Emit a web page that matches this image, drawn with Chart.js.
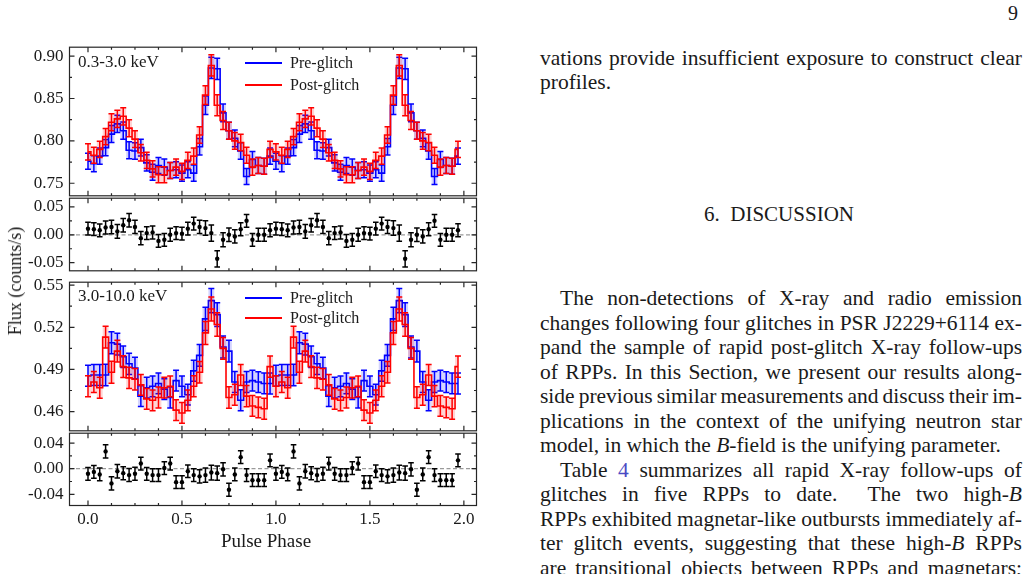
<!DOCTYPE html>
<html>
<head>
<meta charset="utf-8">
<title>Pulse profiles</title>
<script src="https://cdn.jsdelivr.net/npm/chart.js"></script>
<style>
  html, body { margin: 0; padding: 0; background: #fff; width: 1030px; height: 574px; overflow: hidden; }
  body { position: relative; font-family: "Liberation Serif", "DejaVu Serif", serif; color: #1a1a1a; }
  canvas { position: absolute; left: 0; }
  .lbl { position: absolute; white-space: nowrap; line-height: 1; }
  .swatch { position: absolute; height: 2px; width: 37px; }
  .line { position: absolute; left: 540px; width: 482px; font-size: 21.5px; line-height: 24.5px; word-spacing: -2px;
          white-space: nowrap; text-align: justify; text-align-last: justify; }
  .line.last { text-align: left; text-align-last: left; word-spacing: 0; }
  .indent { padding-left: 20px; box-sizing: border-box; }
  .ref { color: #4a4ac4; }
</style>
</head>
<body>
<canvas id="soft" width="500" height="181" style="top:31px;width:500px;height:181px"></canvas>
<canvas id="softRes" width="500" height="105" style="top:182px;width:500px;height:105px"></canvas>
<canvas id="hard" width="500" height="181" style="top:266px;width:500px;height:181px"></canvas>
<canvas id="hardRes" width="500" height="129" style="top:417px;width:500px;height:129px"></canvas>

<div class="lbl" style="left:78px;top:53px;font-size:17px">0.3-3.0 keV</div>
<div class="lbl" style="left:78px;top:287px;font-size:17px">3.0-10.0 keV</div>
<div class="swatch" style="left:245px;top:62px;background:#0000ff"></div>
<div class="lbl" style="left:290px;top:55px;font-size:16px">Pre-glitch</div>
<div class="swatch" style="left:245px;top:84px;background:#ff0000"></div>
<div class="lbl" style="left:290px;top:77px;font-size:16px">Post-glitch</div>
<div class="swatch" style="left:245px;top:297px;background:#0000ff"></div>
<div class="lbl" style="left:290px;top:290px;font-size:16px">Pre-glitch</div>
<div class="swatch" style="left:245px;top:317px;background:#ff0000"></div>
<div class="lbl" style="left:290px;top:310px;font-size:16px">Post-glitch</div>
<div class="lbl" style="left:15px;top:281px;font-size:18px;transform:translate(-50%,-50%) rotate(-90deg)">Flux (counts/s)</div>
<div class="lbl" style="left:266px;top:531px;font-size:19px;transform:translateX(-50%)">Pulse Phase</div>

<div class="lbl" style="left:1008px;top:3px;font-size:20px">9</div>
<div class="line" style="top:45.5px">vations provide insufficient exposure to construct clear</div>
<div class="line last" style="top:70px">profiles.</div>
<div class="lbl" style="left:779px;top:204px;font-size:21px;transform:translateX(-50%)">6.&nbsp; DISCUSSION</div>
<div class="line indent" style="top:286px">The non-detections of X-ray and radio emission</div>
<div class="line" style="top:310.5px">changes following four glitches in PSR J2229+6114 ex-</div>
<div class="line" style="top:335px">pand the sample of rapid post-glitch X-ray follow-ups</div>
<div class="line" style="top:359.5px">of RPPs. In this Section, we present our results along-</div>
<div class="line" style="top:384px">side previous similar measurements and discuss their im-</div>
<div class="line" style="top:408.5px">plications in the context of the unifying neutron star</div>
<div class="line last" style="top:433px">model, in which the <i>B</i>-field is the unifying parameter.</div>
<div class="line indent" style="top:457.5px">Table <span class="ref">4</span> summarizes all rapid X-ray follow-ups of</div>
<div class="line" style="top:482px">glitches in five RPPs to date.&nbsp; The two high-<i>B</i></div>
<div class="line" style="top:506.5px">RPPs exhibited magnetar-like outbursts immediately af-</div>
<div class="line" style="top:531px">ter glitch events, suggesting that these high-<i>B</i> RPPs</div>
<div class="line" style="top:555.5px">are transitional objects between RPPs and magnetars;</div>

<script>
// phase axis limits (matplotlib auto margins around 0 .. 63/32)
const X_MIN = -0.0984;
const X_MAX = 2.0672;

// bin centres of one rotation (32 bins); the profile is drawn twice
const phaseBins = [0, 0.03125, 0.0625, 0.09375, 0.125, 0.15625, 0.1875, 0.21875,
  0.25, 0.28125, 0.3125, 0.34375, 0.375, 0.40625, 0.4375, 0.46875,
  0.5, 0.53125, 0.5625, 0.59375, 0.625, 0.65625, 0.6875, 0.71875,
  0.75, 0.78125, 0.8125, 0.84375, 0.875, 0.90625, 0.9375, 0.96875];

// 0.3-3.0 keV
const softPre = [0.776, 0.773, 0.782, 0.792, 0.808, 0.820, 0.812, 0.789, 0.788, 0.792, 0.774, 0.763, 0.771, 0.769, 0.765, 0.766,
  0.762, 0.766, 0.762, 0.793, 0.842, 0.886, 0.885, 0.833, 0.812, 0.803, 0.788, 0.758, 0.778, 0.771, 0.770, 0.782];
const softPost = [0.787, 0.783, 0.790, 0.805, 0.822, 0.826, 0.829, 0.815, 0.802, 0.786, 0.777, 0.767, 0.760, 0.760, 0.765, 0.769,
  0.764, 0.777, 0.782, 0.807, 0.854, 0.889, 0.842, 0.824, 0.812, 0.800, 0.798, 0.783, 0.769, 0.771, 0.770, 0.790];
const softErr = [0.0095, 0.0095, 0.0095, 0.0097, 0.0100, 0.0102, 0.0102, 0.0100, 0.0098, 0.0098, 0.0096, 0.0095, 0.0095, 0.0095, 0.0095, 0.0095,
  0.0095, 0.0095, 0.0095, 0.0098, 0.0110, 0.0125, 0.0125, 0.0105, 0.0100, 0.0098, 0.0097, 0.0095, 0.0095, 0.0095, 0.0095, 0.0096];
const softRes = [0.011, 0.010, 0.008, 0.013, 0.014, 0.006, 0.017, 0.026, 0.014, -0.006, 0.003, 0.004, -0.011, -0.009, 0.000, 0.003,
  0.002, 0.011, 0.020, 0.014, 0.012, 0.003, -0.043, -0.009, 0.000, -0.003, 0.010, 0.025, -0.009, 0.000, 0.000, 0.008];
const softResErr = [0.0115, 0.0115, 0.0115, 0.0118, 0.0120, 0.0122, 0.0122, 0.0120, 0.0118, 0.0118, 0.0116, 0.0115, 0.0115, 0.0115, 0.0115, 0.0115,
  0.0115, 0.0115, 0.0115, 0.0118, 0.0130, 0.0145, 0.0145, 0.0125, 0.0120, 0.0118, 0.0117, 0.0115, 0.0115, 0.0115, 0.0115, 0.0116];

// 3.0-10.0 keV
const hardPre = [0.4855, 0.486, 0.486, 0.486, 0.509, 0.508, 0.499, 0.494, 0.491, 0.471, 0.477, 0.478, 0.480, 0.476, 0.470, 0.482,
  0.478, 0.472, 0.489, 0.500, 0.526, 0.539, 0.529, 0.506, 0.503, 0.481, 0.468, 0.481, 0.482, 0.481, 0.480, 0.480];
const hardPost = [0.478, 0.481, 0.477, 0.513, 0.488, 0.503, 0.492, 0.484, 0.483, 0.479, 0.469, 0.468, 0.470, 0.477, 0.478, 0.461,
  0.459, 0.468, 0.478, 0.488, 0.516, 0.533, 0.522, 0.505, 0.470, 0.472, 0.486, 0.471, 0.464, 0.463, 0.462, 0.492];
const hardErr = [0.0075, 0.0075, 0.0075, 0.0077, 0.0078, 0.0078, 0.0077, 0.0076, 0.0076, 0.0074, 0.0074, 0.0074, 0.0074, 0.0074, 0.0074, 0.0074,
  0.0074, 0.0074, 0.0075, 0.0077, 0.0082, 0.0086, 0.0084, 0.0078, 0.0077, 0.0075, 0.0075, 0.0075, 0.0074, 0.0074, 0.0074, 0.0075];
const hardRes = [-0.008, -0.005, -0.009, 0.027, -0.023, -0.004, -0.007, -0.010, -0.008, 0.008, -0.008, -0.010, -0.010, 0.001, 0.008, -0.021,
  -0.021, -0.004, -0.010, -0.012, -0.010, -0.006, -0.007, -0.001, -0.033, -0.009, 0.018, -0.010, -0.018, -0.018, -0.018, 0.013];
const hardResErr = [0.0100, 0.0100, 0.0100, 0.0102, 0.0104, 0.0104, 0.0102, 0.0101, 0.0101, 0.0099, 0.0099, 0.0099, 0.0099, 0.0099, 0.0099, 0.0099,
  0.0099, 0.0099, 0.0100, 0.0102, 0.0110, 0.0115, 0.0112, 0.0104, 0.0102, 0.0100, 0.0100, 0.0100, 0.0099, 0.0099, 0.0099, 0.0100];

// axis ranges and ticks
const softRange = [0.7352, 0.9105];
const softTicks = [0.75, 0.80, 0.85, 0.90];
const softMinor = [0.775, 0.825, 0.875];
const softResRange = [-0.0645, 0.0655];
const softResTicks = [-0.05, 0.00, 0.05];
const softResMinor = [-0.025, 0.025];
const hardRange = [0.4463, 0.5521];
const hardTicks = [0.46, 0.49, 0.52, 0.55];
const hardMinor = [0.475, 0.505, 0.535];
const hardResRange = [-0.0575, 0.0554];
const hardResTicks = [-0.04, 0.00, 0.04];
const hardResMinor = [-0.02, 0.02];
const xTicks = [0.0, 0.5, 1.0, 1.5, 2.0];
const xMinor = [0.125, 0.25, 0.375, 0.625, 0.75, 0.875, 1.125, 1.25, 1.375, 1.625, 1.75, 1.875];

const phase = phaseBins.concat(phaseBins.map((p) => p + 1));
const twoCycles = (arr) => arr.concat(arr);
const points = (vals, shift) => twoCycles(vals).map((v, i) => ({ x: phase[i], y: v + (shift ? shift[i] : 0) }));

const FONT = { family: "'Liberation Serif', serif", size: 17 };
const INK = '#1a1a1a';

const errorBarPlugin = {
  id: 'errbars',
  afterDatasetDraw(chart, args) {
    const ds = chart.data.datasets[args.index];
    if (!ds.errorBars) return;
    const { ctx, chartArea: a } = chart;
    const xs = chart.scales.x;
    const ys = chart.scales.y;
    const cap = ds.capHalf || 3;
    ctx.save();
    ctx.beginPath();
    ctx.rect(a.left, a.top, a.right - a.left, a.bottom - a.top);
    ctx.clip();
    ctx.strokeStyle = ds.errColor;
    ctx.lineWidth = 1.5;
    ctx.beginPath();
    ds.data.forEach((p, i) => {
      const x = xs.getPixelForValue(p.x);
      const y1 = ys.getPixelForValue(p.y + ds.errorBars[i]);
      const y2 = ys.getPixelForValue(p.y - ds.errorBars[i]);
      ctx.moveTo(x, y1); ctx.lineTo(x, y2);
      ctx.moveTo(x - cap, y1); ctx.lineTo(x + cap, y1);
      ctx.moveTo(x - cap, y2); ctx.lineTo(x + cap, y2);
    });
    ctx.stroke();
    ctx.restore();
  },
};

const framePlugin = {
  id: 'frame',
  beforeDatasetsDraw(chart, args, opts) {
    if (!opts.zero) return;
    const { ctx, chartArea: a } = chart;
    const y = chart.scales.y.getPixelForValue(0);
    ctx.save();
    ctx.strokeStyle = '#9a9a9a';
    ctx.lineWidth = 1.3;
    ctx.setLineDash([4, 2.5]);
    ctx.beginPath();
    ctx.moveTo(a.left, y); ctx.lineTo(a.right, y);
    ctx.stroke();
    ctx.restore();
  },
  afterDraw(chart, args, opts) {
    const { ctx, chartArea: a } = chart;
    const xs = chart.scales.x;
    const ys = chart.scales.y;
    ctx.save();
    ctx.strokeStyle = '#262626';
    ctx.lineWidth = 1.2;
    ctx.beginPath();
    const xt = (vals, len) => vals.forEach((v) => {
      const x = xs.getPixelForValue(v);
      ctx.moveTo(x, a.bottom); ctx.lineTo(x, a.bottom - len);
      ctx.moveTo(x, a.top); ctx.lineTo(x, a.top + len);
    });
    const yt = (vals, len) => vals.forEach((v) => {
      const y = ys.getPixelForValue(v);
      ctx.moveTo(a.left, y); ctx.lineTo(a.left + len, y);
      ctx.moveTo(a.right, y); ctx.lineTo(a.right - len, y);
    });
    xt(xTicks, 5); xt(xMinor, 2.5);
    yt(opts.yMajor, 5); yt(opts.yMinor, 2.5);
    ctx.stroke();
    ctx.strokeRect(a.left, a.top, a.right - a.left, a.bottom - a.top);
    ctx.restore();
  },
};

function yScale(range, ticks) {
  return {
    type: 'linear', min: range[0], max: range[1],
    afterFit: (s) => { s.width = 69.5; },
    afterBuildTicks: (s) => { s.ticks = ticks.map((v) => ({ value: v })); },
    grid: { display: false, drawTicks: false },
    border: { display: false },
    ticks: { font: FONT, color: INK, padding: 6, callback: (v) => Number(v).toFixed(2) },
  };
}

function xScale(showLabels) {
  const s = { type: 'linear', min: X_MIN, max: X_MAX, display: showLabels };
  if (showLabels) {
    Object.assign(s, {
      afterFit: (sc) => { sc.height = 40.5; },
      afterBuildTicks: (sc) => { sc.ticks = xTicks.map((v) => ({ value: v })); },
      grid: { display: false, drawTicks: false },
      border: { display: false },
      ticks: { font: FONT, color: INK, padding: 4, maxRotation: 0, autoSkip: false, callback: (v) => Number(v).toFixed(1) },
    });
  }
  return s;
}

function baseOptions(range, ticks, minor, zero, bottom) {
  return {
    responsive: false,
    animation: false,
    events: [],
    layout: { autoPadding: false, padding: { top: 15, bottom: bottom ? 0 : 15, left: 0, right: 23.5 } },
    scales: { x: xScale(bottom), y: yScale(range, ticks) },
    plugins: {
      legend: { display: false },
      tooltip: { enabled: false },
      frame: { yMajor: ticks, yMinor: minor, zero },
    },
  };
}

function profileSets(vals, errs, color, fillColor) {
  const e2 = twoCycles(errs);
  const neg = e2.map((e) => -e);
  return [
    { data: points(vals), borderColor: color, borderWidth: 1.6, stepped: 'middle', pointRadius: 0, fill: false,
      errorBars: e2, errColor: color, capHalf: 3 },
    { data: points(vals, neg), borderWidth: 0, pointRadius: 0, stepped: 'middle', fill: false },
    { data: points(vals, e2), borderWidth: 0, pointRadius: 0, stepped: 'middle', fill: '-1', backgroundColor: fillColor },
  ];
}

function residualSet(vals, errs) {
  return [{
    data: points(vals), showLine: false, pointRadius: 2.2, pointBackgroundColor: '#000', pointBorderWidth: 0,
    errorBars: twoCycles(errs), errColor: '#000', capHalf: 2.8,
  }];
}

const plugins = [errorBarPlugin, framePlugin];

new Chart(document.getElementById('soft'), {
  type: 'line',
  data: { datasets: [
    ...profileSets(softPost, softErr, '#ff0000', 'rgba(255,0,0,0.17)'),
    ...profileSets(softPre, softErr, '#0000ff', 'rgba(0,0,255,0.17)'),
  ] },
  options: baseOptions(softRange, softTicks, softMinor, false, false),
  plugins,
});

new Chart(document.getElementById('softRes'), {
  type: 'scatter',
  data: { datasets: residualSet(softRes, softResErr) },
  options: baseOptions(softResRange, softResTicks, softResMinor, true, false),
  plugins,
});

new Chart(document.getElementById('hard'), {
  type: 'line',
  data: { datasets: [
    ...profileSets(hardPost, hardErr, '#ff0000', 'rgba(255,0,0,0.17)'),
    ...profileSets(hardPre, hardErr, '#0000ff', 'rgba(0,0,255,0.17)'),
  ] },
  options: baseOptions(hardRange, hardTicks, hardMinor, false, false),
  plugins,
});

new Chart(document.getElementById('hardRes'), {
  type: 'scatter',
  data: { datasets: residualSet(hardRes, hardResErr) },
  options: baseOptions(hardResRange, hardResTicks, hardResMinor, true, true),
  plugins,
});
</script>
</body>
</html>
